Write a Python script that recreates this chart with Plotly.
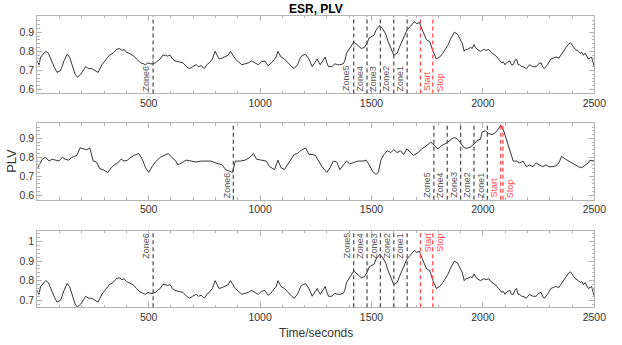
import plotly.graph_objects as go

# ---------------- data ----------------
ESR_T = [0, 8, 15, 23, 38, 50, 60, 75, 89, 105, 120, 134, 145, 158, 170, 180, 195, 217, 230, 244,
         258, 273, 290, 305, 324, 340, 355, 368, 380, 390, 400, 412, 425, 434, 445, 464, 476, 486, 497, 508,
         520, 530, 540, 552, 563, 574, 585, 596, 607, 618, 635, 654, 670, 684, 697, 713, 724, 735, 750, 761,
         772, 786, 798, 808, 816, 830, 845, 857, 867, 878, 889, 903, 918, 933, 948, 962, 976, 992, 1006, 1021,
         1036, 1047, 1058, 1072, 1080, 1087, 1094, 1109, 1120, 1131, 1142, 1153, 1168, 1182, 1192, 1204, 1219, 1234, 1245, 1256,
         1270, 1281, 1292, 1300, 1307, 1322, 1336, 1347, 1358, 1373, 1380, 1388, 1400, 1410, 1421, 1430, 1439, 1454, 1468, 1479,
         1490, 1500, 1512, 1520, 1527, 1537, 1549, 1564, 1575, 1586, 1600, 1607, 1615, 1625, 1637, 1648, 1659, 1674, 1685, 1693,
         1703, 1715, 1725, 1732, 1747, 1762, 1776, 1791, 1806, 1820, 1831, 1842, 1857, 1872, 1886, 1901, 1908, 1916, 1923, 1930,
         1945, 1952, 1960, 1967, 1974, 1989, 2004, 2015, 2026, 2041, 2055, 2070, 2085, 2092, 2099, 2110, 2121, 2128, 2136, 2143,
         2151, 2158, 2165, 2173, 2180, 2195, 2202, 2209, 2224, 2239, 2250, 2261, 2268, 2275, 2290, 2305, 2316, 2327, 2341, 2356,
         2371, 2382, 2393, 2404, 2415, 2429, 2437, 2444, 2452, 2459, 2466, 2473, 2481, 2488, 2495, 2500]
ESR_V = [0.75, 0.73, 0.77, 0.78, 0.80, 0.79, 0.76, 0.72, 0.69, 0.70, 0.75, 0.785, 0.77, 0.72, 0.68, 0.665, 0.68, 0.72, 0.71, 0.71,
         0.70, 0.69, 0.73, 0.75, 0.78, 0.79, 0.81, 0.815, 0.805, 0.81, 0.795, 0.79, 0.78, 0.775, 0.76, 0.74, 0.735, 0.73, 0.74, 0.735,
         0.735, 0.74, 0.75, 0.76, 0.78, 0.78, 0.775, 0.78, 0.76, 0.75, 0.745, 0.74, 0.72, 0.71, 0.72, 0.73, 0.72, 0.725, 0.71, 0.73,
         0.74, 0.76, 0.80, 0.78, 0.76, 0.765, 0.775, 0.78, 0.80, 0.78, 0.76, 0.745, 0.73, 0.735, 0.74, 0.75, 0.74, 0.73, 0.745, 0.75,
         0.725, 0.735, 0.75, 0.77, 0.80, 0.78, 0.77, 0.76, 0.745, 0.73, 0.72, 0.71, 0.73, 0.77, 0.78, 0.785, 0.76, 0.72, 0.74, 0.76,
         0.73, 0.75, 0.77, 0.74, 0.72, 0.72, 0.735, 0.73, 0.73, 0.735, 0.75, 0.79, 0.81, 0.83, 0.85, 0.84, 0.83, 0.815, 0.82, 0.84,
         0.87, 0.875, 0.885, 0.91, 0.92, 0.935, 0.92, 0.89, 0.85, 0.82, 0.78, 0.785, 0.79, 0.82, 0.85, 0.88, 0.91, 0.93, 0.945, 0.955,
         0.945, 0.95, 0.92, 0.90, 0.86, 0.85, 0.80, 0.76, 0.77, 0.79, 0.81, 0.83, 0.87, 0.90, 0.89, 0.86, 0.84, 0.80, 0.81, 0.81,
         0.82, 0.815, 0.835, 0.82, 0.81, 0.80, 0.81, 0.805, 0.81, 0.79, 0.78, 0.76, 0.74, 0.745, 0.73, 0.745, 0.75, 0.73, 0.73, 0.75,
         0.76, 0.73, 0.73, 0.72, 0.72, 0.71, 0.72, 0.73, 0.72, 0.72, 0.735, 0.74, 0.72, 0.71, 0.73, 0.76, 0.765, 0.77, 0.765, 0.79,
         0.82, 0.835, 0.845, 0.83, 0.81, 0.80, 0.79, 0.795, 0.78, 0.79, 0.77, 0.76, 0.765, 0.77, 0.74, 0.72]

PLV_T = [0, 9, 23, 38, 53, 67, 82, 97, 112, 126, 141, 156, 178, 192, 207, 222, 236, 251, 266, 280,
         295, 317, 332, 346, 361, 376, 390, 405, 420, 434, 456, 471, 486, 500, 515, 530, 552, 574, 588, 603,
         618, 632, 647, 669, 691, 713, 735, 757, 779, 801, 816, 830, 845, 867, 876, 889, 911, 933, 955, 970,
         984, 1006, 1028, 1043, 1065, 1080, 1094, 1109, 1124, 1138, 1153, 1168, 1182, 1204, 1219, 1234, 1248, 1263, 1278, 1300,
         1314, 1329, 1344, 1358, 1373, 1388, 1402, 1417, 1439, 1461, 1476, 1490, 1505, 1520, 1531, 1542, 1556, 1571, 1586, 1600,
         1615, 1630, 1644, 1659, 1674, 1688, 1710, 1725, 1740, 1754, 1766, 1781, 1798, 1813, 1828, 1842, 1857, 1872, 1887, 1901,
         1916, 1930, 1945, 1960, 1975, 1989, 1997, 2011, 2026, 2041, 2055, 2070, 2080, 2092, 2107, 2121, 2136, 2151, 2165, 2180,
         2195, 2209, 2224, 2239, 2253, 2268, 2283, 2297, 2312, 2327, 2341, 2353, 2371, 2385, 2400, 2415, 2429, 2444, 2459, 2473,
         2481, 2495, 2500]
PLV_V = [0.74, 0.76, 0.79, 0.80, 0.78, 0.79, 0.785, 0.78, 0.80, 0.79, 0.785, 0.80, 0.81, 0.85, 0.845, 0.84, 0.85, 0.78, 0.775, 0.74,
         0.735, 0.72, 0.745, 0.76, 0.77, 0.79, 0.78, 0.785, 0.80, 0.81, 0.82, 0.79, 0.745, 0.72, 0.75, 0.775, 0.80, 0.81, 0.82, 0.80,
         0.785, 0.76, 0.77, 0.785, 0.78, 0.775, 0.78, 0.78, 0.78, 0.77, 0.765, 0.76, 0.735, 0.725, 0.72, 0.78, 0.78, 0.785, 0.80, 0.82,
         0.79, 0.785, 0.78, 0.75, 0.735, 0.785, 0.745, 0.735, 0.76, 0.79, 0.815, 0.82, 0.835, 0.85, 0.815, 0.815, 0.81, 0.78, 0.75, 0.72,
         0.745, 0.78, 0.775, 0.735, 0.76, 0.78, 0.765, 0.77, 0.78, 0.78, 0.785, 0.76, 0.725, 0.71, 0.72, 0.785, 0.815, 0.835, 0.825, 0.84,
         0.825, 0.835, 0.815, 0.845, 0.825, 0.81, 0.825, 0.845, 0.855, 0.87, 0.88, 0.865, 0.845, 0.86, 0.87, 0.88, 0.895, 0.905, 0.895, 0.87,
         0.85, 0.848, 0.855, 0.87, 0.89, 0.895, 0.935, 0.94, 0.925, 0.92, 0.93, 0.95, 0.97, 0.945, 0.89, 0.835, 0.78, 0.78, 0.77, 0.78,
         0.75, 0.76, 0.75, 0.77, 0.76, 0.75, 0.76, 0.75, 0.75, 0.755, 0.77, 0.805, 0.79, 0.78, 0.77, 0.76, 0.75, 0.745, 0.76, 0.77,
         0.785, 0.78, 0.78]

ZONE_NAMES = ["Zone6", "Zone5", "Zone4", "Zone3", "Zone2", "Zone1"]
ESR_ZONES = [520, 1420, 1480, 1540, 1600, 1660]
ESR_START, ESR_STOP = 1720, 1775
PLV_ZONES = [880, 1780, 1840, 1900, 1960, 2020]
PLV_START, PLV_STOP = 2080, 2090

X_TICKS = [500, 1000, 1500, 2000, 2500]
Y_TICKS_TOP = [0.6, 0.7, 0.8, 0.9]
Y_TICKS_BOTTOM = [0.7, 0.8, 0.9, 1.0]
Y_LABELS_TOP = ["0.6", "0.7", "0.8", "0.9"]
Y_LABELS_BOTTOM = ["0.7", "0.8", "0.9", "1"]

TITLE = "ESR, PLV"
YTITLE = "PLV"
XTITLE = "Time/seconds"

# ---------------- layout ----------------
W, H = 622, 345


def fx(px):
    return px / W


def fy(py):
    return 1 - py / H


XDOM = [fx(38), fx(606)]
PANELS = [  # (top px, bottom px, y range)
    (16, 94, [0.58, 0.985]),
    (124, 201, [0.575, 0.98]),
    (232, 309, [0.664, 1.056]),
]
YT = [(Y_TICKS_TOP, Y_LABELS_TOP), (Y_TICKS_TOP, Y_LABELS_TOP), (Y_TICKS_BOTTOM, Y_LABELS_BOTTOM)]
AX_COL = "#b4b4b4"
TXT_COL = "#333333"
ZONE_COL = "#555555"
RED = "#ff4d4d"
FONT = "Liberation Sans"

fig = go.Figure()
series = [(ESR_T, ESR_V), (PLV_T, PLV_V), (ESR_T, ESR_V)]
zones = [(ESR_ZONES, ESR_START, ESR_STOP, "bottom", "left"),
         (PLV_ZONES, PLV_START, PLV_STOP, "bottom", "right"),
         (ESR_ZONES, ESR_START, ESR_STOP, "top", "left")]

for i, ((top, bot, yr), (tt, vv)) in enumerate(zip(PANELS, series)):
    n = "" if i == 0 else str(i + 1)
    xa, ya = "x" + n, "y" + n
    fig.add_trace(go.Scatter(x=tt, y=vv, mode="lines", xaxis=xa, yaxis=ya,
                             line=dict(color="black", width=0.8), showlegend=False,
                             hoverinfo="skip"))
    common = dict(showline=True, linecolor=AX_COL, linewidth=1, mirror="ticks",
                  ticks="inside", tickcolor=AX_COL, ticklen=5, tickwidth=1,
                  showgrid=False, zeroline=False,
                  tickfont=dict(family=FONT, size=10.5, color=TXT_COL))
    fig.layout["xaxis" + n] = dict(domain=XDOM, anchor=ya, range=[0, 2500],
                                   tickvals=X_TICKS,
                                   minor=dict(dtick=100, ticks="inside", ticklen=2.5, tickcolor=AX_COL),
                                   **common)
    fig.layout["yaxis" + n] = dict(domain=[fy(bot), fy(top)], anchor=xa, range=yr,
                                   tickvals=YT[i][0], ticktext=YT[i][1],
                                   minor=dict(dtick=0.02, tick0=0, ticks="inside", ticklen=2.5, tickcolor=AX_COL),
                                   **common)

    zl, st, sp, vpos, start_side = zones[i]
    ydom_y = 0 if vpos == "bottom" else 1
    for name, zx in zip(ZONE_NAMES, zl):
        fig.add_shape(type="line", xref=xa, yref=ya + " domain", x0=zx, x1=zx, y0=0, y1=1,
                      line=dict(color=ZONE_COL, width=1.3, dash="4px,3px"))
        fig.add_annotation(x=zx, y=ydom_y, xref=xa, yref=ya + " domain", text=name,
                           textangle=-90, showarrow=False, xanchor="right", yanchor=vpos,
                           font=dict(family=FONT, size=9, color=ZONE_COL))
    for name, zx, side in (("Start", st, start_side), ("Stop", sp, "left")):
        fig.add_shape(type="line", xref=xa, yref=ya + " domain", x0=zx, x1=zx, y0=0, y1=1,
                      line=dict(color=RED, width=1.3, dash="4px,3px"))
        fig.add_annotation(x=zx, y=ydom_y, xref=xa, yref=ya + " domain", text=name,
                           textangle=-90, showarrow=False, xanchor=side, yanchor=vpos,
                           font=dict(family=FONT, size=9, color=RED))

fig.add_annotation(x=0.5 * (XDOM[0] + XDOM[1]), y=fy(9), xref="paper", yref="paper",
                   xanchor="center", yanchor="middle",
                   text="<b>" + TITLE + "</b>", showarrow=False,
                   font=dict(family=FONT, size=12, color="black"))
fig.add_annotation(x=fx(11), y=fy(162), xref="paper", yref="paper", text=YTITLE,
                   xanchor="center", yanchor="middle",
                   textangle=-90, showarrow=False, font=dict(family=FONT, size=13, color=TXT_COL))
fig.add_annotation(x=0.5 * (XDOM[0] + XDOM[1]), y=fy(335), xref="paper", yref="paper",
                   xanchor="center", yanchor="middle",
                   text=XTITLE, showarrow=False, font=dict(family=FONT, size=12, color=TXT_COL))

fig.update_layout(width=W, height=H, margin=dict(l=0, r=0, t=0, b=0),
                  paper_bgcolor="white", plot_bgcolor="white")
# remove the browser's default 8px body margin so the figure sits at the page origin
fig.write_html("out.html", config={"displayModeBar": False},
               post_script="document.body.style.margin='0px';")
